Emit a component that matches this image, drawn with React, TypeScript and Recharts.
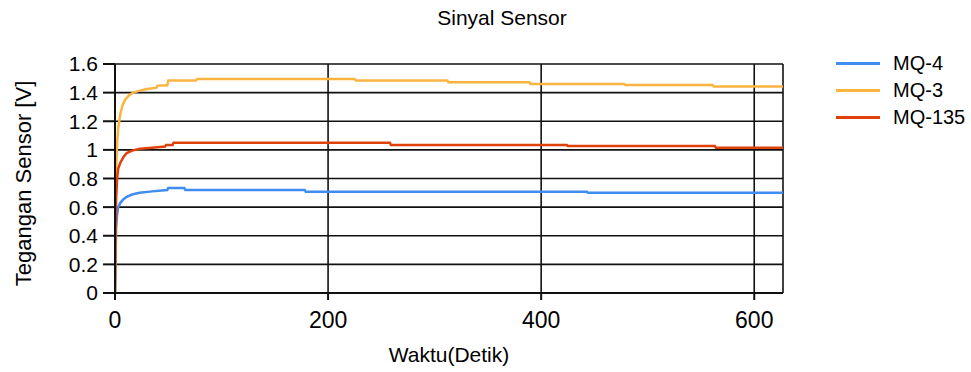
import React from "react";
import { LineChart, Line, XAxis, YAxis, CartesianGrid } from "recharts";

const FONT = "'Liberation Sans', Arial, sans-serif";

const chartTitle = "Sinyal Sensor";
const xAxisTitle = "Waktu(Detik)";
const yAxisTitle = "Tegangan Sensor [V]";

const xTicks = [0, 200, 400, 600];
const yTicks = [0, 0.2, 0.4, 0.6, 0.8, 1, 1.2, 1.4, 1.6];

// MQ-4 (blue)
const mq4Time = [0, 1, 2, 3, 5, 8, 11, 16, 23, 35, 49, 50, 65, 66, 178, 179, 443, 444, 627];
const mq4Volt = [0, 0.45, 0.55, 0.6, 0.63, 0.655, 0.672, 0.688, 0.7, 0.71, 0.72, 0.733, 0.733, 0.72, 0.72, 0.708, 0.708, 0.7, 0.7];

// MQ-3 (orange)
const mq3Time = [0, 0.5, 1, 2, 3, 5, 7, 9.5, 13, 17, 23.5, 30, 39, 40, 49, 50, 76, 77, 225, 226, 312, 313, 389, 390, 478, 479, 561, 562, 627];
const mq3Volt = [0, 0.5, 0.85, 1.05, 1.15, 1.25, 1.31, 1.35, 1.38, 1.4, 1.414, 1.425, 1.435, 1.449, 1.452, 1.484, 1.484, 1.495, 1.495, 1.484, 1.484, 1.472, 1.472, 1.46, 1.46, 1.453, 1.453, 1.442, 1.442];

// MQ-135 (red)
const mq135Time = [0, 0.5, 1, 2, 3, 5, 8, 11, 16, 23.5, 35, 47, 48, 54, 55, 258, 259, 424, 425, 563, 564, 627];
const mq135Volt = [0, 0.4, 0.65, 0.8, 0.87, 0.91, 0.95, 0.978, 0.995, 1.008, 1.015, 1.023, 1.034, 1.034, 1.05, 1.05, 1.034, 1.034, 1.027, 1.027, 1.015, 1.015];

const toRows = (t: number[], v: number[]) => t.map((x, i) => ({ t: x, v: v[i] }));

const series = [
  { name: "MQ-4", color: "#418CF0", data: toRows(mq4Time, mq4Volt) },
  { name: "MQ-3", color: "#FCB441", data: toRows(mq3Time, mq3Volt) },
  { name: "MQ-135", color: "#E0400A", data: toRows(mq135Time, mq135Volt) },
];

export default function App() {
  return (
    <div style={{ position: "absolute", left: 0, top: 0, width: 971, height: 372, background: "#fff" }}>
      <div
        style={{
          position: "absolute",
          left: 402,
          width: 200,
          top: 6,
          textAlign: "center",
          fontFamily: FONT,
          fontSize: 21,
          color: "#000",
        }}
      >
        {chartTitle}
      </div>
      <div style={{ position: "absolute", left: 836, top: 50, fontFamily: FONT, fontSize: 20 }}>
        {series.map((s) => (
          <div key={s.name} style={{ display: "flex", alignItems: "center", height: 27 }}>
            <div style={{ width: 44, height: 3, background: s.color, marginRight: 13 }} />
            <span style={{ color: "#000" }}>{s.name}</span>
          </div>
        ))}
      </div>
      <LineChart width={971} height={372} margin={{ top: 64, right: 188, bottom: 0, left: 0 }}>
        <CartesianGrid stroke="#111" strokeWidth={1.6} horizontal vertical />
        <XAxis
          type="number"
          dataKey="t"
          domain={[0, 627]}
          ticks={xTicks}
          interval={0}
          allowDataOverflow
          height={79}
          stroke="#111"
          strokeWidth={2}
          tickSize={7}
          tickMargin={12}
          tick={{ fill: "#000", fontSize: 23, fontFamily: FONT }}
          label={{
            content: (p: any) => (
              <text
                x={p.viewBox.x + p.viewBox.width / 2}
                y={p.viewBox.y + 69}
                textAnchor="middle"
                fontFamily={FONT}
                fontSize={21}
                fill="#000"
              >
                {xAxisTitle}
              </text>
            ),
          }}
        />
        <YAxis
          type="number"
          domain={[0, 1.6]}
          ticks={yTicks}
          interval={0}
          width={115}
          stroke="#111"
          strokeWidth={2}
          tickSize={12}
          tickMargin={5}
          tick={{ fill: "#000", fontSize: 21, fontFamily: FONT }}
          label={{
            content: (p: any) => {
              const cx = p.viewBox.x + 23;
              const cy = p.viewBox.y + p.viewBox.height / 2 + 5;
              return (
                <text
                  x={cx}
                  y={cy}
                  transform={`rotate(-90 ${cx} ${cy})`}
                  textAnchor="middle"
                  dominantBaseline="central"
                  fontFamily={FONT}
                  fontSize={22}
                  fill="#000"
                >
                  {yAxisTitle}
                </text>
              );
            },
          }}
        />
        {series.map((s) => (
          <Line
            key={s.name}
            name={s.name}
            data={s.data}
            dataKey="v"
            type="linear"
            stroke={s.color}
            strokeWidth={2.5}
            dot={false}
            isAnimationActive={false}
          />
        ))}
      </LineChart>
    </div>
  );
}
